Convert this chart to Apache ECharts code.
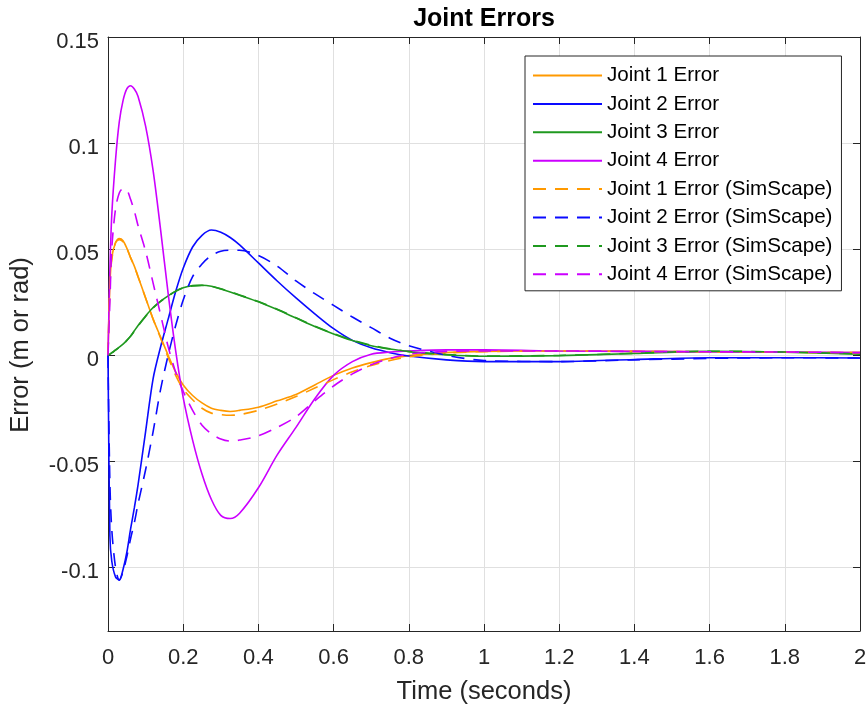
<!DOCTYPE html>
<html>
<head>
<meta charset="utf-8">
<script src="https://cdn.jsdelivr.net/npm/echarts@6/dist/echarts.min.js"></script>
<style>html,body{margin:0;padding:0;background:#fff}#c{width:868px;height:706px}</style>
</head>
<body>
<div id="c"></div>
<script>
// time samples (seconds)
const time = [0, 0.005, 0.01, 0.02, 0.03, 0.04, 0.05, 0.06, 0.07, 0.08, 0.10, 0.12, 0.14, 0.16, 0.18, 0.20, 0.225, 0.25, 0.275, 0.30, 0.325, 0.35, 0.40, 0.45, 0.50, 0.55, 0.60, 0.65, 0.70, 0.75, 0.80, 0.90, 1.0, 1.2, 1.4, 1.6, 1.8, 2.0];

const joint1 = [0, .033, .046, .053, .055, .054, .0505, .046, .042, .037, .027, .017, .0085, 0, -.008, -.014, -.019, -.0225, -.025, -.026, -.0265, -.026, -.0245, -.0215, -.0185, -.014, -.0095, -.006, -.0035, -.0015, -.0002, .0012, .0018, .002, .0018, .0016, .0014, .0012];
const joint2 = [0, -.085, -.097, -.1045, -.106, -.101, -.093, -.082, -.072, -.061, -.036, -.011, .004, .017, .030, .041, .051, .0565, .059, .058, .0555, .052, .0435, .035, .027, .0195, .0125, .007, .0035, .0012, -.0004, -.0022, -.003, -.003, -.002, -.0012, -.0012, -.0013];
const joint3 = [0, .0005, .0012, .0025, .0038, .0052, .007, .009, .0115, .014, .0185, .0225, .0255, .028, .0302, .0318, .0328, .033, .0325, .0312, .0298, .0283, .0252, .0215, .0175, .0135, .0100, .0069, .0045, .0029, .0017, .0002, -.0005, -.0002, .0008, .0018, .0014, .0005];
const joint4 = [0, .040, .066, .092, .110, .120, .1255, .127, .1255, .122, .108, .087, .059, .029, .002, -.020, -.040, -.056, -.068, -.0755, -.0770, -.0745, -.0625, -.047, -.034, -.0205, -.0095, -.003, .0005, .0015, .002, .0025, .0025, .002, .0018, .0016, .0015, .0012];

const joint1Sim = [0, .032, .045, .053, .0545, .0535, .0505, .046, .042, .037, .027, .017, .008, -.001, -.0095, -.016, -.021, -.025, -.0273, -.028, -.0283, -.028, -.026, -.023, -.0195, -.0155, -.0115, -.0078, -.0048, -.0025, -.0008, .001, .0017, .002, .0018, .0016, .0014, .0012];
const joint2Sim = [0, -.060, -.082, -.100, -.106, -.102, -.095, -.0865, -.079, -.070, -.054, -.036, -.016, .000, .014, .026, .037, .043, .047, .049, .0495, .0495, .047, .042, .035, .029, .0235, .018, .013, .008, .0045, 0, -.0025, -.003, -.0022, -.0015, -.0012, -.0013];
const joint3Sim = [0, .0005, .0011, .0024, .0037, .0051, .0069, .0089, .0113, .0138, .0183, .0223, .0254, .0279, .0301, .0317, .0327, .0329, .0325, .0313, .0299, .0284, .0253, .0217, .0177, .0137, .0102, .0071, .0047, .003, .0018, .0003, -.0004, -.0001, .0009, .0019, .0015, .0006];
const joint4Sim = [0, .025, .050, .069, .0765, .0785, .078, .0735, .068, .061, .049, .034, .019, .004, -.008, -.017, -.026, -.033, -.037, -.0395, -.0405, -.040, -.038, -.034, -.029, -.0215, -.0145, -.0088, -.0045, -.0015, .0005, .0018, .002, .002, .0018, .0016, .0015, .0012];

const seriesNames = ['Joint 1 Error', 'Joint 2 Error', 'Joint 3 Error', 'Joint 4 Error',
  'Joint 1 Error (SimScape)', 'Joint 2 Error (SimScape)', 'Joint 3 Error (SimScape)', 'Joint 4 Error (SimScape)'];
const seriesValues = [joint1, joint2, joint3, joint4, joint1Sim, joint2Sim, joint3Sim, joint4Sim];
const colors = ['#ff9900', '#0a0aff', '#1f991f', '#cc00ff'];

const xTicks = [0, 0.2, 0.4, 0.6, 0.8, 1, 1.2, 1.4, 1.6, 1.8, 2];
const yTicks = [-0.1, -0.05, 0, 0.05, 0.1, 0.15];

const FONT = "'Liberation Sans', Arial, Helvetica, sans-serif";
const AX = '#262626';

const chart = echarts.init(document.getElementById('c'), null, {renderer: 'canvas'});

const series = seriesNames.map((name, i) => ({
  name: name,
  type: 'line',
  xAxisIndex: 0,
  yAxisIndex: 0,
  symbol: 'none',
  smooth: 0.3,
  animation: false,
  lineStyle: {
    color: colors[i % 4],
    width: 1.6,
    type: i >= 4 ? [13, 9] : 'solid'
  },
  itemStyle: {color: colors[i % 4]},
  data: time.map((t, k) => [t, seriesValues[i][k]])
}));

const option = {
  animation: false,
  backgroundColor: '#fff',
  title: {
    text: 'Joint Errors',
    left: 479,
    top: 2,
    textAlign: 'center',
    textStyle: {fontFamily: FONT, fontSize: 25, fontWeight: 'bold', color: '#000'}
  },
  grid: {left: 108, right: 8, top: 37, bottom: 75, containLabel: false, outerBoundsMode: 'none'},
  legend: {
    orient: 'vertical',
    left: 525,
    top: 56,
    padding: [9, 9, 6, 7],
    itemWidth: 69,
    itemHeight: 20,
    itemGap: 7.4,
    backgroundColor: '#fff',
    borderColor: AX,
    borderWidth: 1,
    borderRadius: 0,
    itemStyle: {color: 'rgba(0,0,0,0)', borderColor: 'rgba(0,0,0,0)', borderWidth: 0, opacity: 0},
    textStyle: {fontFamily: FONT, fontSize: 20.6, color: '#000', lineHeight: 20},
    data: seriesNames
  },
  xAxis: [{
    type: 'value', position: 'bottom', min: 0, max: 2, interval: 0.2,
    name: 'Time (seconds)', nameLocation: 'middle', nameGap: 48,
    nameTextStyle: {fontFamily: FONT, fontSize: 25.5, color: AX},
    axisLine: {show: true, onZero: false, lineStyle: {color: AX, width: 1}},
    axisTick: {show: true, inside: true, length: 7, lineStyle: {color: AX}},
    axisLabel: {fontFamily: FONT, fontSize: 22, color: AX, margin: 16,
      customValues: xTicks, formatter: v => String(+v.toFixed(2))},
    splitLine: {show: true, lineStyle: {color: '#e0e0e0', width: 1}}
  }, {
    type: 'value', position: 'top', min: 0, max: 2, interval: 0.2,
    axisLine: {show: true, onZero: false, lineStyle: {color: AX, width: 1}},
    axisTick: {show: true, inside: true, length: 7, lineStyle: {color: AX}},
    axisLabel: {show: false},
    splitLine: {show: false}
  }],
  yAxis: [{
    type: 'value', position: 'left', min: -0.13, max: 0.15,
    name: 'Error (m or rad)', nameLocation: 'middle', nameGap: 74,
    nameTextStyle: {fontFamily: FONT, fontSize: 25.5, color: AX, padding: [0, 22, 0, 0]},
    axisLine: {show: true, onZero: false, lineStyle: {color: AX, width: 1}},
    axisTick: {show: true, inside: true, length: 7, lineStyle: {color: AX}, customValues: yTicks},
    axisLabel: {fontFamily: FONT, fontSize: 22, color: AX, margin: 9, verticalAlign: 'top', lineHeight: 9,
      customValues: yTicks, formatter: v => String(+v.toFixed(2))},
    splitLine: {show: true, lineStyle: {color: '#e0e0e0', width: 1}}
  }, {
    type: 'value', position: 'right', min: -0.13, max: 0.15,
    axisLine: {show: true, onZero: false, lineStyle: {color: AX, width: 1}},
    axisTick: {show: true, inside: true, length: 7, lineStyle: {color: AX}, customValues: yTicks},
    axisLabel: {show: false},
    splitLine: {show: false}
  }],
  series: series
};
chart.setOption(option);
</script>
</body>
</html>
